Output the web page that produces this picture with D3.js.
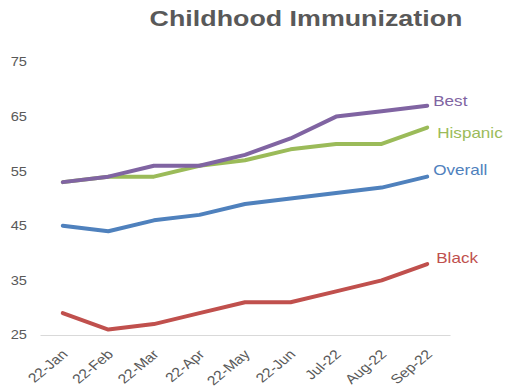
<!DOCTYPE html>
<html>
<head>
<meta charset="utf-8">
<script src="https://cdn.jsdelivr.net/npm/d3@7"></script>
<style>
  body { margin: 0; background: #fff; }
  svg { display: block; font-family: "Liberation Sans", Arial, sans-serif; }
</style>
</head>
<body>
<svg id="chart" width="506" height="391"></svg>
<script>
// Monthly immunization rates by group
const months = ["22-Jan", "22-Feb", "22-Mar", "22-Apr", "22-May", "22-Jun", "Jul-22", "Aug-22", "Sep-22"];
const best     = [53, 54, 56, 56, 58, 61, 65, 66, 67];
const hispanic = [53, 54, 54, 56, 57, 59, 60, 60, 63];
const overall  = [45, 44, 46, 47, 49, 50, 51, 52, 54];
const black    = [29, 26, 27, 29, 31, 31, 33, 35, 38];
const yTicks   = [25, 35, 45, 55, 65, 75];

const series = [
  { name: "Black",    values: black,    color: "#c0504d", dx: 9, dy: -1 },
  { name: "Overall",  values: overall,  color: "#4f81bd", dx: 6, dy: -2 },
  { name: "Hispanic", values: hispanic, color: "#9bbb59", dx: 10, dy: 10 },
  { name: "Best",     values: best,     color: "#8064a2", dx: 6, dy: 0 }
];

// Text is drawn slightly wide
const stretch = 1.22;

const svg = d3.select("#chart");
const W = 506;
const x = d3.scaleBand().domain(months).range([40, 450]);
const y = d3.scaleLinear().domain([25, 75]).range([335, 62]);

// Title
svg.append("text")
  .attr("transform", `translate(306,26) scale(${stretch},1)`)
  .attr("text-anchor", "middle")
  .attr("font-size", 22).attr("font-weight", "bold")
  .attr("fill", "#595959")
  .text("Childhood Immunization");

// Y axis labels (no axis line)
const yAxis = svg.append("g")
  .attr("transform", "translate(27,0)")
  .call(d3.axisLeft(y).tickValues(yTicks).tickSize(0).tickPadding(0));
yAxis.select(".domain").remove();
yAxis.selectAll("text")
  .attr("font-size", 12).attr("fill", "#595959")
  .attr("font-family", "Liberation Sans, Arial, sans-serif")
  .attr("x", null)
  .attr("transform", `scale(${stretch},1)`);

// X axis baseline and slanted labels
const xAxis = svg.append("g")
  .attr("transform", `translate(0,${y(25)})`)
  .call(d3.axisBottom(x).tickSize(0));
xAxis.select(".domain").attr("stroke", "#d9d9d9").attr("stroke-width", 1.2);
xAxis.selectAll("text")
  .attr("font-size", 13).attr("fill", "#595959")
  .attr("font-family", "Liberation Sans, Arial, sans-serif")
  .attr("text-anchor", "end")
  .attr("x", 0).attr("y", 0)
  .attr("dy", "0.35em")
  .attr("transform", `translate(2,17) scale(${stretch},1) rotate(-45)`);

const line = d3.line()
  .x((d, i) => x(months[i]) + x.bandwidth() / 2)
  .y(d => y(d));

series.forEach(s => {
  svg.append("path")
    .datum(s.values)
    .attr("fill", "none")
    .attr("stroke", s.color)
    .attr("stroke-width", 4)
    .attr("stroke-linejoin", "round")
    .attr("stroke-linecap", "round")
    .attr("d", line);

  const last = s.values.length - 1;
  const lx = x(months[last]) + x.bandwidth() / 2 + s.dx;
  const ly = y(s.values[last]) + s.dy;
  svg.append("text")
    .attr("transform", `translate(${lx},${ly}) scale(${stretch},1)`)
    .attr("font-size", 14)
    .attr("fill", s.color)
    .text(s.name);
});
</script>
</body>
</html>
